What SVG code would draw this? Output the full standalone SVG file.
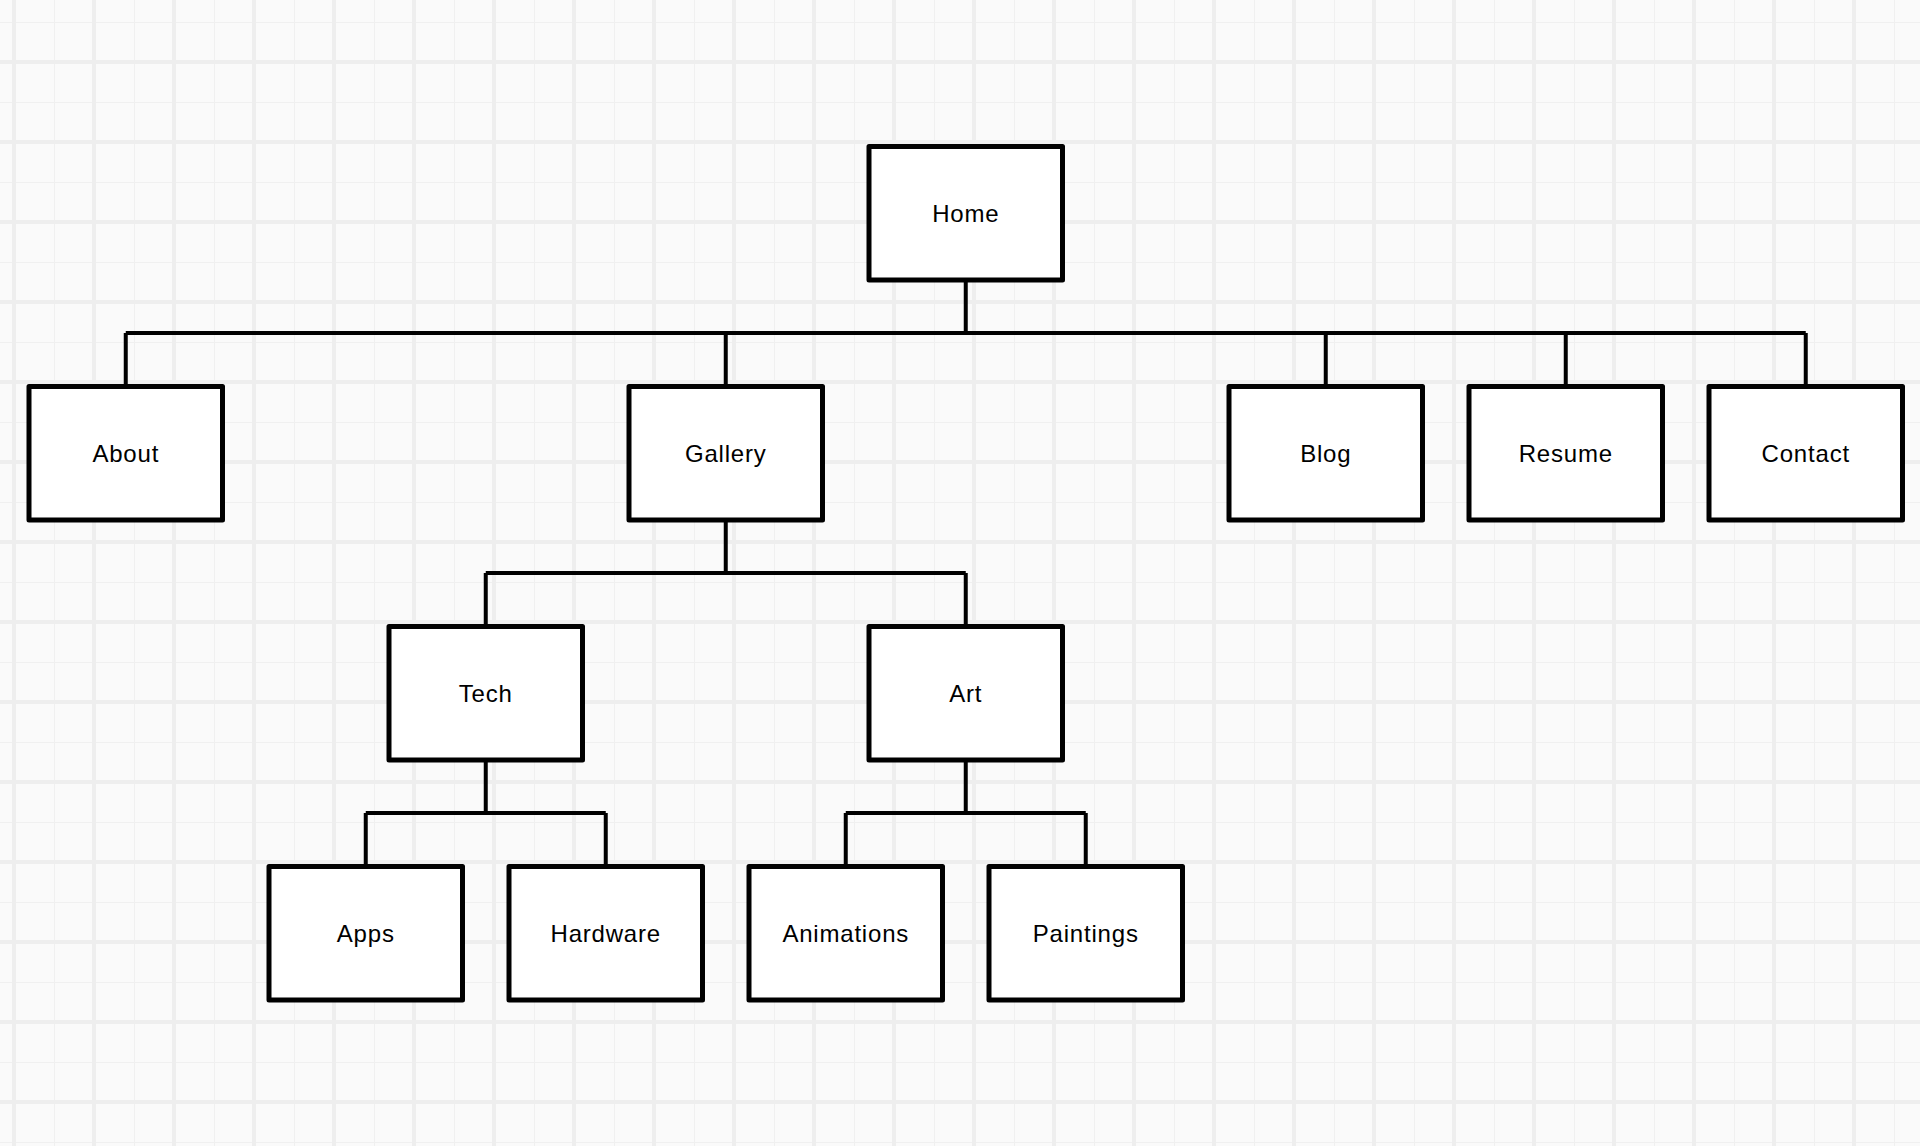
<svg xmlns="http://www.w3.org/2000/svg" width="1920" height="1146" viewBox="0 0 1920 1146">
  <defs>
    <pattern id="grid" patternUnits="userSpaceOnUse" x="54" y="22" width="80" height="80">
      <rect width="80" height="80" fill="#fafafa"/>
      <line x1="0.5" y1="0" x2="0.5" y2="80" stroke="#f0f0f0" stroke-width="1"/>
      <line x1="0" y1="0.5" x2="80" y2="0.5" stroke="#f0f0f0" stroke-width="1"/>
      <line x1="40" y1="0" x2="40" y2="80" stroke="#eeeeee" stroke-width="4"/>
      <line x1="0" y1="40" x2="80" y2="40" stroke="#eeeeee" stroke-width="4"/>
    </pattern>
  </defs>
  <style>
    .box { fill: #ffffff; stroke: #000000; stroke-width: 5; stroke-linejoin: round; }
    .lbl { font-family: "Liberation Sans", Arial, sans-serif; font-size: 24px; letter-spacing: 0.8px; fill: #000000; text-anchor: middle; }
    .conn { fill: none; stroke: #000000; stroke-width: 4; stroke-linejoin: miter; }
  </style>
  <rect width="1920" height="1146" fill="url(#grid)"/>

  <g id="connectors">
    <path class="conn" d="M965.75 280 V333 M125.75 333 H1805.75 M125.75 333 V386.5 M725.75 333 V386.5 M1325.75 333 V386.5 M1565.75 333 V386.5 M1805.75 333 V386.5"/>
    <path class="conn" d="M725.75 520 V573 M485.75 573 H965.75 M485.75 573 V626.5 M965.75 573 V626.5"/>
    <path class="conn" d="M485.75 760 V813 M365.75 813 H605.75 M365.75 813 V866.5 M605.75 813 V866.5"/>
    <path class="conn" d="M965.75 760 V813 M845.75 813 H1085.75 M845.75 813 V866.5 M1085.75 813 V866.5"/>
  </g>

  <g id="home"><rect class="box" x="869" y="146.5" width="193.5" height="133.5"/><text class="lbl" x="965.75" y="221.5">Home</text></g>
  <g id="about"><rect class="box" x="29" y="386.5" width="193.5" height="133.5"/><text class="lbl" x="125.75" y="461.5">About</text></g>
  <g id="gallery"><rect class="box" x="629" y="386.5" width="193.5" height="133.5"/><text class="lbl" x="725.75" y="461.5">Gallery</text></g>
  <g id="blog"><rect class="box" x="1229" y="386.5" width="193.5" height="133.5"/><text class="lbl" x="1325.75" y="461.5">Blog</text></g>
  <g id="resume"><rect class="box" x="1469" y="386.5" width="193.5" height="133.5"/><text class="lbl" x="1565.75" y="461.5">Resume</text></g>
  <g id="contact"><rect class="box" x="1709" y="386.5" width="193.5" height="133.5"/><text class="lbl" x="1805.75" y="461.5">Contact</text></g>
  <g id="tech"><rect class="box" x="389" y="626.5" width="193.5" height="133.5"/><text class="lbl" x="485.75" y="701.5">Tech</text></g>
  <g id="art"><rect class="box" x="869" y="626.5" width="193.5" height="133.5"/><text class="lbl" x="965.75" y="701.5">Art</text></g>
  <g id="apps"><rect class="box" x="269" y="866.5" width="193.5" height="133.5"/><text class="lbl" x="365.75" y="941.5">Apps</text></g>
  <g id="hardware"><rect class="box" x="509" y="866.5" width="193.5" height="133.5"/><text class="lbl" x="605.75" y="941.5">Hardware</text></g>
  <g id="animations"><rect class="box" x="749" y="866.5" width="193.5" height="133.5"/><text class="lbl" x="845.75" y="941.5">Animations</text></g>
  <g id="paintings"><rect class="box" x="989" y="866.5" width="193.5" height="133.5"/><text class="lbl" x="1085.75" y="941.5">Paintings</text></g>
</svg>
